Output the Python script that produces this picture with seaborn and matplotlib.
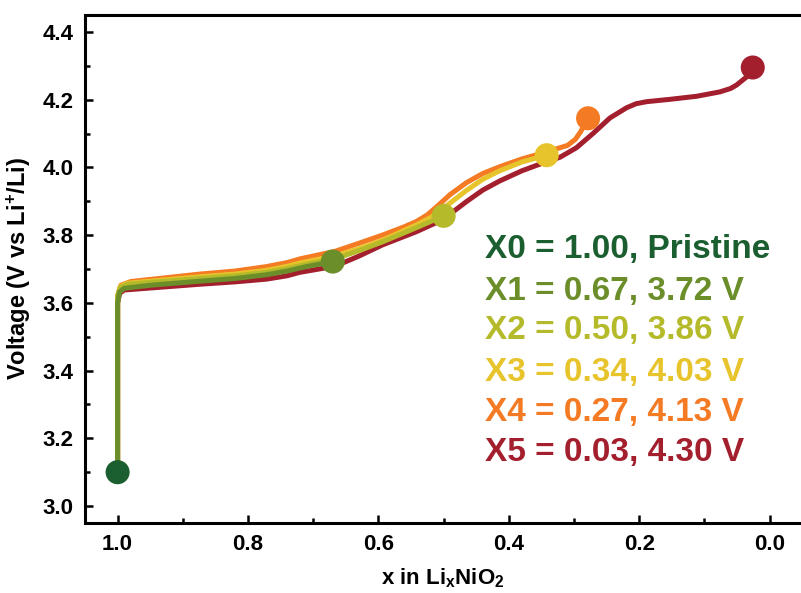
import numpy as np
import pandas as pd
import matplotlib
matplotlib.use("Agg")
import matplotlib.pyplot as plt
import seaborn as sns
from matplotlib.ticker import MultipleLocator

# Charge curves (x in LixNiO2, voltage)
x1 = [1.0, 1.0, 0.997, 0.99, 0.95, 0.874, 0.82, 0.772, 0.74, 0.711, 0.67]
v1 = [3.10, 3.60, 3.632, 3.643, 3.652, 3.664, 3.672, 3.683, 3.694, 3.707, 3.722]

x2 = [1.0, 1.0, 0.996, 0.985, 0.874, 0.82, 0.772, 0.74, 0.711, 0.667, 0.63,
      0.594, 0.542, 0.50]
v2 = [3.10, 3.62, 3.645, 3.655, 3.672, 3.680, 3.690, 3.701, 3.714, 3.730, 3.754,
      3.780, 3.822, 3.857]

x3 = [1.0, 1.0, 0.996, 0.985, 0.874, 0.82, 0.772, 0.74, 0.72, 0.667, 0.63,
      0.594, 0.542, 0.52, 0.50, 0.465, 0.44, 0.414, 0.38, 0.342]
v3 = [3.10, 3.62, 3.648, 3.658, 3.677, 3.685, 3.696, 3.708, 3.718, 3.738, 3.760,
      3.785, 3.830, 3.852, 3.880, 3.932, 3.965, 3.990, 4.016, 4.036]

x4 = [1.0, 1.0, 0.995, 0.98, 0.874, 0.82, 0.772, 0.74, 0.72, 0.667, 0.63,
      0.594, 0.56, 0.542, 0.525, 0.51, 0.49, 0.465, 0.44, 0.414, 0.38, 0.342,
      0.31, 0.298, 0.29, 0.2785]
v4 = [3.10, 3.62, 3.652, 3.663, 3.685, 3.694, 3.707, 3.719, 3.730, 3.752, 3.776,
      3.800, 3.825, 3.840, 3.860, 3.885, 3.920, 3.955, 3.982, 4.002, 4.025, 4.046,
      4.065, 4.083, 4.105, 4.145]

x5 = [1.0, 1.0, 0.997, 0.99, 0.874, 0.82, 0.772, 0.74, 0.721, 0.667, 0.63,
      0.594, 0.542, 0.502, 0.465, 0.44, 0.414, 0.38, 0.342, 0.3215, 0.2964,
      0.271, 0.245, 0.2196, 0.205, 0.189, 0.153, 0.112, 0.0764, 0.06, 0.051,
      0.0355, 0.026]
v5 = [3.10, 3.60, 3.628, 3.638, 3.655, 3.662, 3.670, 3.680, 3.690, 3.708, 3.738,
      3.771, 3.810, 3.845, 3.899, 3.933, 3.960, 3.990, 4.017, 4.030, 4.058,
      4.100, 4.146, 4.176, 4.188, 4.194, 4.201, 4.210, 4.223, 4.233, 4.243,
      4.267, 4.295]

# End points of each state
end_x = [1.00, 0.67, 0.50, 0.342, 0.2785, 0.026]
end_v = [3.10, 3.722, 3.857, 4.036, 4.145, 4.295]

labels = ["X0 = 1.00, Pristine", "X1 = 0.67, 3.72 V", "X2 = 0.50, 3.86 V",
          "X3 = 0.34, 4.03 V", "X4 = 0.27, 4.13 V", "X5 = 0.03, 4.30 V"]
colors = ["#1b5e30", "#6b8e2a", "#b5ba2b", "#e8c42c", "#f47a23", "#a31f2e"]

sns.set_style("ticks")
plt.rcParams['font.family'] = ['Liberation Sans', 'DejaVu Sans']
plt.rcParams['font.weight'] = 'bold'
plt.rcParams['axes.labelweight'] = 'bold'
plt.rcParams['mathtext.fontset'] = 'custom'
plt.rcParams['mathtext.bf'] = 'Liberation Sans:bold'
plt.rcParams['mathtext.rm'] = 'Liberation Sans:bold'
plt.rcParams['mathtext.default'] = 'bf'
plt.rcParams['text.color'] = 'black'
plt.rcParams['axes.labelcolor'] = 'black'
plt.rcParams['axes.edgecolor'] = 'black'
plt.rcParams['xtick.color'] = 'black'
plt.rcParams['ytick.color'] = 'black'

fig = plt.figure(figsize=(8.01, 5.93), dpi=100)
ax = fig.add_axes([85 / 801, 1 - 523 / 593, 1 - 85 / 801, (523 - 15) / 593])

curves = [(x5, v5, 5), (x4, v4, 4), (x3, v3, 3), (x2, v2, 2), (x1, v1, 1)]
for xs, vs, i in curves:
    df = pd.DataFrame({"x": xs, "v": vs})
    sns.lineplot(data=df, x="x", y="v", sort=False, estimator=None,
                 color=colors[i], lw=3.6, ax=ax,
                 solid_joinstyle="round", solid_capstyle="round")

pts = pd.DataFrame({"x": end_x, "v": end_v, "s": labels})
sns.scatterplot(data=pts, x="x", y="v", hue="s", palette=colors, s=300,
                edgecolor="none", legend=False, ax=ax, zorder=5, clip_on=False)

ax.set_xlim(1.05, -0.048)
ax.set_ylim(2.95, 4.45)
ax.xaxis.set_major_locator(MultipleLocator(0.2))
ax.xaxis.set_minor_locator(MultipleLocator(0.1))
ax.yaxis.set_major_locator(MultipleLocator(0.2))
ax.yaxis.set_minor_locator(MultipleLocator(0.1))
ax.set_xticks(np.arange(0, 1.01, 0.2))
ax.set_xticklabels([f"{t:.1f}" for t in np.arange(0, 1.01, 0.2)])
ax.tick_params(which="both", direction="in", width=1.8, labelsize=16, pad=8)
ax.tick_params(which="major", length=6)
ax.tick_params(which="minor", length=3.5)
for side in ["left", "bottom", "top"]:
    ax.spines[side].set_linewidth(2.2)
ax.spines["right"].set_visible(False)

ax.set_xlabel(r"x in Li$_\mathbf{x}$NiO$_\mathbf{2}$", fontsize=16, labelpad=8)
ax.set_ylabel(r"Voltage (V vs Li$^\mathbf{+}$/Li)", fontsize=17, labelpad=7)

ys = [250, 291, 331, 372, 412, 453]
for lab, c, y in zip(labels, colors, ys):
    fig.text(485 / 801, 1 - y / 593, lab, color=c, fontsize=24,
             fontweight="bold", va="center", ha="left")

fig.savefig("out.png", dpi=100)
